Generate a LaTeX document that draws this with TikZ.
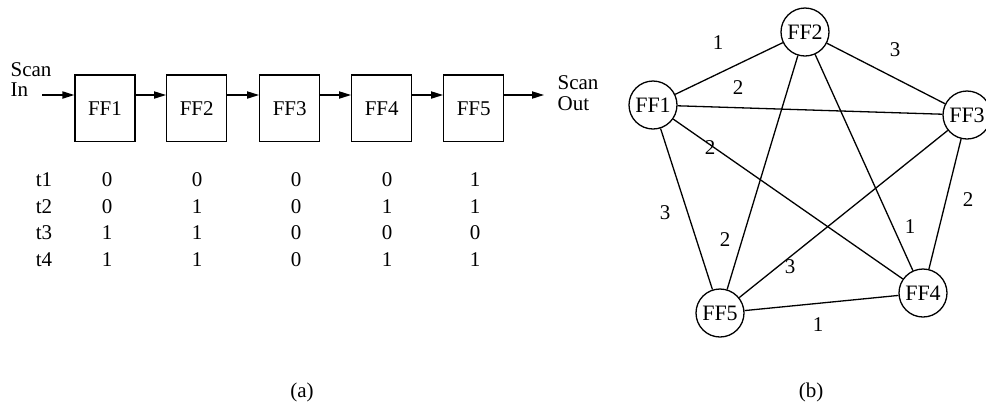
\documentclass[tikz,border=0pt]{standalone}
\usepackage{fontspec}
\setmainfont{Liberation Serif}
\usetikzlibrary{arrows.meta}
\begin{document}
\begin{tikzpicture}[x=0.5pt,y=-0.5pt,
  line width=0.65pt,
  ffbox/.style={draw, minimum width=30pt, minimum height=33.3pt, inner sep=0pt, font=\fontsize{10.5}{12}\selectfont},
  ffnode/.style={draw, circle, minimum size=24pt, inner sep=0pt, font=\fontsize{11}{12}\selectfont},
  lbl/.style={inner sep=0pt, font=\fontsize{10.5}{12}\selectfont},
  flow/.style={-{Triangle[length=6pt,width=3.6pt]}},
]
\useasboundingbox (0,0) rectangle (986,409);

% (a) scan chain
\node[ffbox] (f1) at (105,108.3) {FF1};
\node[ffbox] (f2) at (196.7,108.3) {FF2};
\node[ffbox] (f3) at (289.7,108.3) {FF3};
\node[ffbox] (f4) at (381.7,108.3) {FF4};
\node[ffbox] (f5) at (473.7,108.3) {FF5};

\node[lbl, anchor=base west] (sinA) at (10,76) {Scan};
\node[lbl, anchor=base west] (sinB) at (10,96) {In};
\node[lbl, anchor=base west] (soutA) at (557,89) {Scan};
\node[lbl, anchor=base west] (soutB) at (557,110) {Out};

\coordinate (inStart) at (42,95);
\coordinate (outEnd) at (544,95);
\draw[flow] (inStart) -- (inStart -| f1.west);
\draw[flow] (f1.east |- inStart) -- (f2.west |- inStart);
\draw[flow] (f2.east |- inStart) -- (f3.west |- inStart);
\draw[flow] (f3.east |- inStart) -- (f4.west |- inStart);
\draw[flow] (f4.east |- inStart) -- (f5.west |- inStart);
\draw[flow] (f5.east |- inStart) -- (outEnd);

% test vectors
\foreach \r/\y/\a/\b/\c/\d/\e in {1/180/0/0/0/0/1, 2/207/0/1/0/1/1, 3/233/1/1/0/0/0, 4/260/1/1/0/1/1}{
  \node[lbl] (t\r) at (44,\y) {t\r};
  \node[lbl] (v\r a) at (107,\y) {\a};
  \node[lbl] (v\r b) at (197,\y) {\b};
  \node[lbl] (v\r c) at (296,\y) {\c};
  \node[lbl] (v\r d) at (387,\y) {\d};
  \node[lbl] (v\r e) at (475,\y) {\e};
}
\node[lbl] (capa) at (302,392) {(a)};

% (b) conflict graph
\node[ffnode] (g1) at (653,105) {FF1};
\node[ffnode] (g2) at (805,32) {FF2};
\node[ffnode] (g3) at (967,115) {FF3};
\node[ffnode] (g4) at (923,293) {FF4};
\node[ffnode] (g5) at (720,313) {FF5};

\draw (g1) -- (g2);
\draw (g2) -- (g3);
\draw (g1) -- (g3);
\draw (g1) -- (g4);
\draw (g1) -- (g5);
\draw (g2) -- (g5);
\draw (g2) -- (g4);
\draw (g3) -- (g5);
\draw (g3) -- (g4);
\draw (g4) -- (g5);

\node[lbl] (w12) at (718,43) {1};
\node[lbl] (w23) at (895,50) {3};
\node[lbl] (w13) at (738,88) {2};
\node[lbl] (w14) at (710,148) {2};
\node[lbl] (w15) at (665,213) {3};
\node[lbl] (w25) at (725,240) {2};
\node[lbl] (w35) at (790,267) {3};
\node[lbl] (w24) at (910,227) {1};
\node[lbl] (w34) at (968,200) {2};
\node[lbl] (w45) at (818,325) {1};

\node[lbl] (capb) at (811,392) {(b)};
\end{tikzpicture}
\end{document}
